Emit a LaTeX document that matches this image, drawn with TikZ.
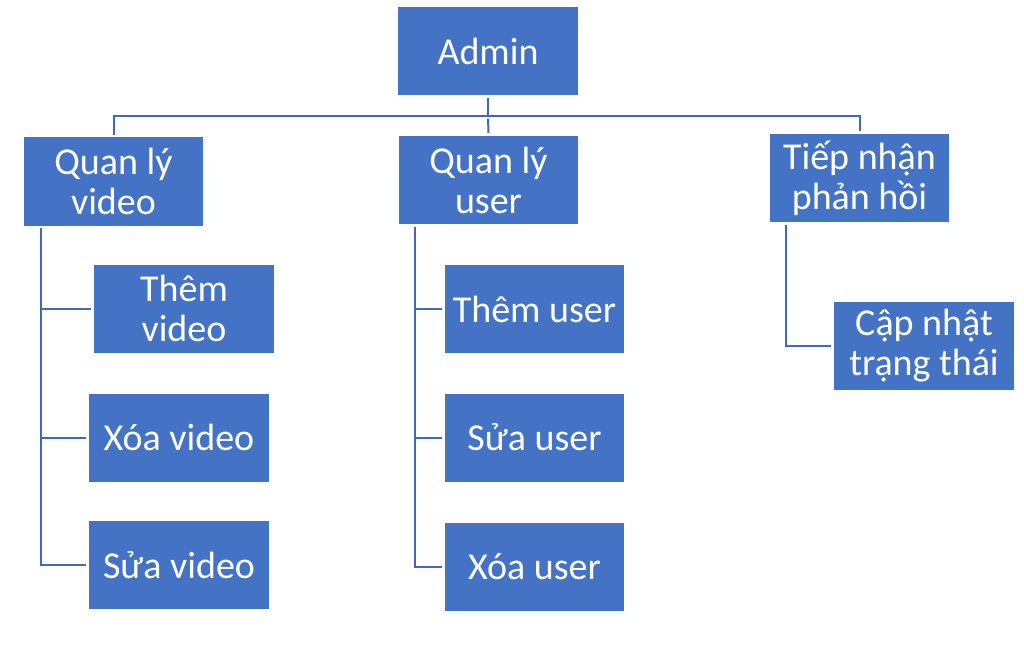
\documentclass[tikz,border=0pt]{standalone}
\usepackage{fontspec}
\setmainfont{Carlito}
\definecolor{boxblue}{HTML}{4472C4}
\definecolor{lineblue}{HTML}{4169B8}
\begin{document}
\begin{tikzpicture}[x=0.75pt,y=-0.75pt,
  box/.style={fill=boxblue, text=white, minimum width=134.5pt, minimum height=66pt,
    inner sep=0pt, align=center, font=\fontsize{28.5}{30}\selectfont},
  conn/.style={draw=lineblue, line width=1.5pt, shorten <=2pt, shorten >=2pt}]
\useasboundingbox (0,0) rectangle (1024,649);
\node[box] (admin) at (488,51.5) {Admin};
\node[box] (qlv) at (113.5,181.5) {Quan lý\\video};
\node[box] (qlu) at (488.5,180) {Quan lý\\user};
\node[box] (tiep) at (859.5,178) {Tiếp nhận\\phản hồi};
\node[box] (themv) at (184,308.5) {Thêm\\video};
\node[box] (xoav) at (179,437.5) {Xóa video};
\node[box] (suav) at (179,565) {Sửa video};
\node[box] (themu) at (534.5,309) {Thêm user};
\node[box] (suau) at (534.5,437.5) {Sửa user};
\node[box] (xoau) at (534.5,566.5) {Xóa user};
\node[box] (capnhat) at (924,346) {Cập nhật\\trạng thái};
\coordinate (bus) at (488,116);
\draw[conn, shorten >=0pt] (admin.south) -- (bus);
\draw[conn, shorten >=0pt] (qlv.north) |- (bus);
\draw[conn] (bus) -- (qlu.north);
\draw[conn, shorten <=0pt] (bus) -| (tiep.north);
\coordinate (tv) at ([xshift=13.1pt]qlv.south west);
\coordinate (tu) at ([xshift=12.4pt]qlu.south west);
\coordinate (tt) at ([xshift=12.4pt]tiep.south west);
\draw[conn] (tv) |- (themv.west);
\draw[conn] (tv) |- (xoav.west);
\draw[conn] (tv) |- (suav.west);
\draw[conn] (tu) |- (themu.west);
\draw[conn] (tu) |- (suau.west);
\draw[conn] (tu) |- (xoau.west);
\draw[conn] (tt) |- (capnhat.west);
\end{tikzpicture}
\end{document}
